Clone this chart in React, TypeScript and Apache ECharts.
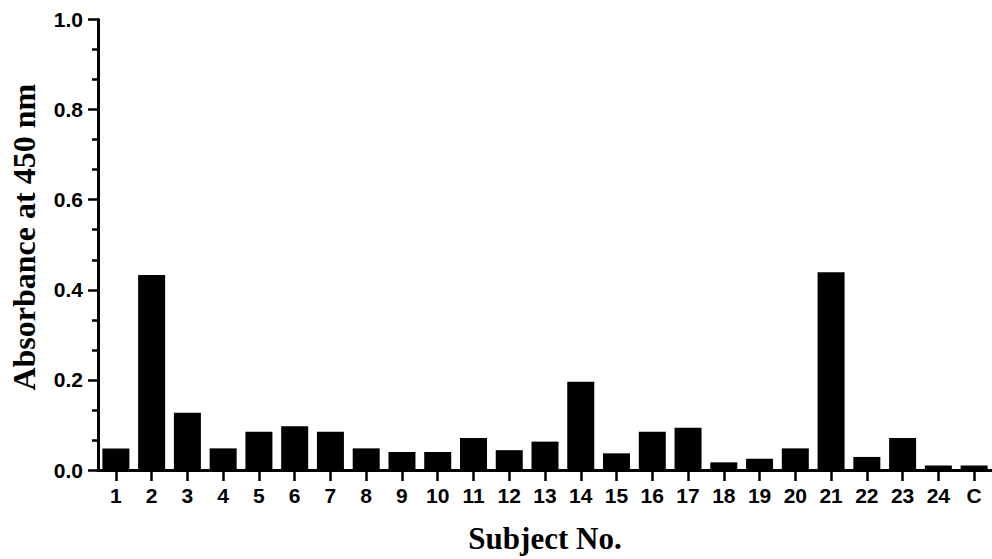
import React, { useEffect, useRef } from "react";
import * as echarts from "echarts";

const categories = ["1","2","3","4","5","6","7","8","9","10","11","12","13","14","15","16","17","18","19","20","21","22","23","24","C"];
const absorbance = [0.048, 0.433, 0.127, 0.048, 0.085, 0.097, 0.085, 0.048, 0.040, 0.040, 0.071, 0.044, 0.063, 0.196, 0.037, 0.085, 0.094, 0.017, 0.025, 0.048, 0.439, 0.029, 0.071, 0.010, 0.010];
const xTitle = "Subject No.";
const yTitle = "Absorbance at 450 nm";

export default function App() {
  const ref = useRef<HTMLDivElement>(null);
  useEffect(() => {
    if (!ref.current) return;
    const chart = echarts.init(ref.current, null, { renderer: "svg" });
    const labelFont = "'Liberation Sans', Arial, sans-serif";
    const titleFont = "'Liberation Serif', 'Times New Roman', serif";
    chart.setOption({
      animation: false,
      backgroundColor: "#ffffff",
      grid: { left: 97, top: 19.5, width: 897, bottom: 88.5, containLabel: false },
      xAxis: {
        type: "category",
        data: categories,
        name: xTitle,
        nameLocation: "middle",
        nameGap: 53,
        nameTextStyle: { fontFamily: titleFont, fontWeight: "bold", fontSize: 31, color: "#000" },
        axisLine: { show: true, lineStyle: { color: "#000", width: 3 } },
        axisTick: { show: true, alignWithLabel: true, length: 11, lineStyle: { color: "#000", width: 2.5 } },
        axisLabel: { color: "#000", fontFamily: labelFont, fontWeight: "bold", fontSize: 21, margin: 15 },
        splitLine: { show: false },
      },
      yAxis: {
        type: "value",
        min: 0,
        max: 1,
        interval: 0.2,
        name: yTitle,
        nameLocation: "middle",
        nameGap: 58,
        nameTextStyle: { fontFamily: titleFont, fontWeight: "bold", fontSize: 32, color: "#000", padding: [0, 0, 0, 15] },
        axisLine: { show: true, lineStyle: { color: "#000", width: 3 } },
        axisTick: { show: true, length: 10, lineStyle: { color: "#000", width: 2.5 } },
        minorTick: { show: true, splitNumber: 3, length: 6, lineStyle: { color: "#000", width: 2.5 } },
        axisLabel: {
          color: "#000", fontFamily: labelFont, fontWeight: "bold", fontSize: 21, margin: 15,
          formatter: (v: number) => v.toFixed(1),
        },
        splitLine: { show: false },
        minorSplitLine: { show: false },
      },
      series: [
        {
          type: "bar",
          data: absorbance,
          barWidth: 27,
          itemStyle: { color: "#000" },
        },
      ],
    });
    return () => chart.dispose();
  }, []);
  return <div ref={ref} style={{ position: "fixed", left: 0, top: 0, width: 992, height: 559 }} />;
}
